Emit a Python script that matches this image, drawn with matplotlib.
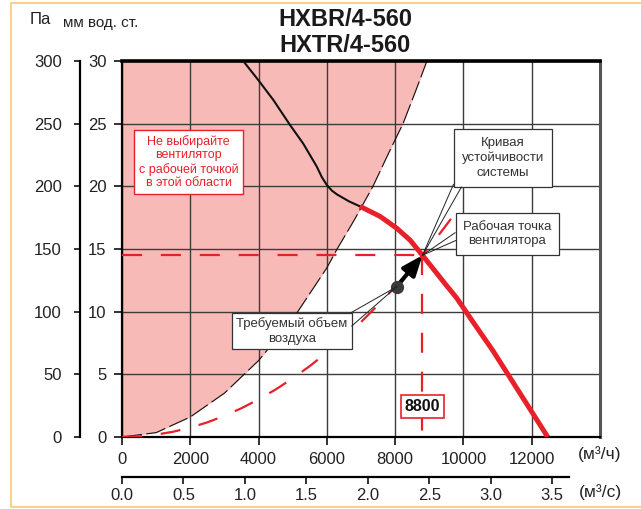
import numpy as np
import matplotlib
matplotlib.use('Agg')
import matplotlib.pyplot as plt
from matplotlib.patches import Rectangle
import matplotlib.ticker as ticker

# Fan curve HXBR/HXTR 4-560: flow (m3/h) vs static pressure (mm w.c.)
fan_q_unstable = [3550, 4000, 4430, 4920, 5310, 5700, 5850, 6000, 6150, 6300, 6650, 6970]
fan_p_unstable = [30.0, 28.45, 26.9, 24.9, 23.4, 21.6, 20.75, 20.1, 19.65, 19.35, 18.8, 18.4]
fan_q_work = [6970, 7560, 8050, 8440, 8800, 9220, 9500, 9800, 10300, 10860, 12470]
fan_p_work = [18.4, 17.6, 16.65, 15.7, 14.5, 13.06, 12.1, 11.1, 9.1, 6.9, 0.0]

# system resistance curve (dashed red)
sys_q = [0, 500, 1000, 1500, 2000, 2500, 3000, 3500, 4000, 4500, 5000, 5500,
         6000, 6500, 7000, 7500, 8000, 8500, 8800, 9300, 9800]
sys_p = [0.0, 0.05, 0.19, 0.42, 0.75, 1.17, 1.69, 2.3, 3.0, 3.79, 4.68, 5.66,
         6.74, 7.91, 9.17, 10.53, 11.98, 13.53, 14.5, 16.2, 18.0]

# boundary of the unstable (forbidden) zone
zone_q = [0, 1000, 2000, 3000, 4000, 5000, 6000, 6300, 6800, 7350, 7800, 8230, 8600, 8930]
zone_p = [0.0, 0.35, 1.6, 3.5, 6.1, 9.4, 13.5, 15.0, 17.3, 20.0, 22.6, 25.0, 27.6, 30.0]

duty_q, duty_p = 8800, 14.5      # operating point
req_q, req_p = 8050, 12.0        # required air volume

q_ticks = [0, 2000, 4000, 6000, 8000, 10000, 12000]
mm_ticks = [0, 5, 10, 15, 20, 25, 30]
pa_ticks = [0, 50, 100, 150, 200, 250, 300]
qs_ticks = [0.0, 0.5, 1.0, 1.5, 2.0, 2.5, 3.0, 3.5]

RED = '#e8202a'
PINK = '#f8bab6'
GRID = '#3c3c3c'
TSIZE = 12

plt.rcParams['font.family'] = ['Liberation Sans', 'DejaVu Sans']

W, H = 641, 509
fig = plt.figure(figsize=(W / 100, H / 100), dpi=100)


def fx(px):
    return px / W


def fy(py):
    return 1 - py / H


# thin orange frame around the sheet
fig.add_artist(Rectangle((fx(11), fy(507)), fx(650) - fx(11), fy(3) - fy(507),
                         transform=fig.transFigure, fill=False,
                         ec='#f8c878', lw=1.2))

ax = fig.add_axes([fx(122), fy(437), fx(600) - fx(122), fy(61) - fy(437)])
ax.set_xlim(0, 14000)
ax.set_ylim(0, 30)

ax.fill_between(zone_q, zone_p, 30, color=PINK, lw=0, zorder=0.5)
ax.plot(zone_q, zone_p, color='#111111', lw=0.8, ls=(0, (18, 4)), zorder=2)

ax.set_xticks(q_ticks)
ax.set_yticks(mm_ticks)
ax.grid(True, color=GRID, lw=1.0)
ax.tick_params(direction='out', length=6, width=1.3, colors='#222222',
               labelsize=TSIZE, pad=5)
ax.spines['top'].set_linewidth(2.6)
ax.spines['right'].set_linewidth(2.2)
ax.spines['right'].set_color('#555555')
ax.spines['left'].set_linewidth(1.6)
ax.spines['bottom'].set_linewidth(1.6)

# Pa scale on the left
pa = ax.secondary_yaxis(-42 / 478, functions=(lambda y: y * 10, lambda y: y / 10))
pa.set_yticks(pa_ticks)
pa.tick_params(direction='out', length=4, width=1.3, labelsize=TSIZE, pad=9,
               colors='#222222')
pa.spines['left'].set_linewidth(1.6)

# m3/s scale under the plot
qs = ax.secondary_xaxis(-40 / 376, functions=(lambda q: q / 3600, lambda s: s * 3600))
qs.set_xticks(qs_ticks)
qs.xaxis.set_major_formatter(ticker.FormatStrFormatter('%.1f'))
qs.tick_params(direction='out', length=5, width=1.3, labelsize=TSIZE, pad=3,
               colors='#222222')
qs.spines['bottom'].set_linewidth(1.6)
qs.spines['bottom'].set_bounds(0, 3.64)

# system curve and duty lines
dash = (0, (9, 8.5))
ax.plot(sys_q, sys_p, color=RED, lw=1.6, ls=dash, zorder=3)
ax.plot([0, duty_q], [duty_p, duty_p], color=RED, lw=1.6, ls=dash, zorder=3)
ax.plot([duty_q, duty_q], [duty_p, 0], color=RED, lw=1.6, ls=dash, zorder=3)

# fan curve
ax.plot(fan_q_unstable, fan_p_unstable, color='#111111', lw=1.5, zorder=4,
        solid_joinstyle='round')
ax.plot(fan_q_work, fan_p_work, color=RED, lw=3.6, zorder=4,
        solid_capstyle='butt', solid_joinstyle='round')

# required volume -> operating point
ax.annotate('', xy=(duty_q, duty_p), xytext=(req_q, req_p),
            arrowprops=dict(arrowstyle='-|>,head_length=1.5,head_width=0.6',
                            lw=3, color='black', mutation_scale=8,
                            shrinkA=3, shrinkB=0), zorder=6)
ax.plot(req_q, req_p, 'o', ms=8.5, color='#3a3a3a', zorder=7)


def callout(text, xy, xytext, pad, rel1, rel2):
    # label box with two leader lines joining at the marked point
    kw = dict(ha='center', va='center', fontsize=9.5, linespacing=1.3,
              zorder=8, annotation_clip=False)
    for rel, visible in ((rel1, True), (rel2, False)):
        ax.annotate(text, xy=xy, xytext=xytext,
                    color='#333333' if visible else 'none',
                    bbox=dict(boxstyle=f'square,pad={pad}',
                              fc='white' if visible else 'none',
                              ec='#333333' if visible else 'none', lw=0.9),
                    arrowprops=dict(arrowstyle='-', color='#222222', lw=0.7,
                                    relpos=rel, shrinkA=0, shrinkB=0),
                    **kw)


callout('Кривая\nустойчивости\nсистемы', (duty_q, duty_p), (11160, 22.26),
        0.6, (0.0, 0.33), (0.05, 0.0))
callout('Рабочая точка\nвентилятора', (duty_q, duty_p), (11280, 16.2),
        0.55, (0.0, 0.75), (0.0, 0.375))
callout('Требуемый объем\nвоздуха', (req_q, req_p), (4980, 8.46),
        0.3, (0.96, 1.0), (1.0, 0.55))

ax.text(1950, 21.94, 'Не выбирайте\nвентилятор\nс рабочей точкой\nв этой области',
        ha='center', va='center', fontsize=9, color=RED, linespacing=1.15,
        bbox=dict(boxstyle='square,pad=0.4', fc='white', ec=RED, lw=1.0),
        zorder=8)

ax.text(duty_q, 2.47, f'{duty_q}', ha='center', va='center', fontsize=11.5,
        fontweight='bold', color='#111111',
        bbox=dict(boxstyle='square,pad=0.25', fc='white', ec=RED, lw=1.2),
        zorder=8)

# titles and unit labels
fig.text(fx(345), fy(20), 'HXBR/4-560', ha='center', va='center',
         fontsize=17, fontweight='bold', color='#1a1a1a')
fig.text(fx(345), fy(46), 'HXTR/4-560', ha='center', va='center',
         fontsize=17, fontweight='bold', color='#1a1a1a')
fig.text(fx(40), fy(20), 'Па', ha='center', va='center', fontsize=12,
         color='#222222')
fig.text(fx(101), fy(23), 'мм вод. ст.', ha='center', va='center',
         fontsize=11, color='#222222')
fig.text(fx(600), fy(454), '(м³/ч)', ha='center', va='center',
         fontsize=12.5, color='#222222')
fig.text(fx(600), fy(492), '(м³/с)', ha='center', va='center',
         fontsize=12.5, color='#222222')

fig.savefig('out.png', dpi=100)
